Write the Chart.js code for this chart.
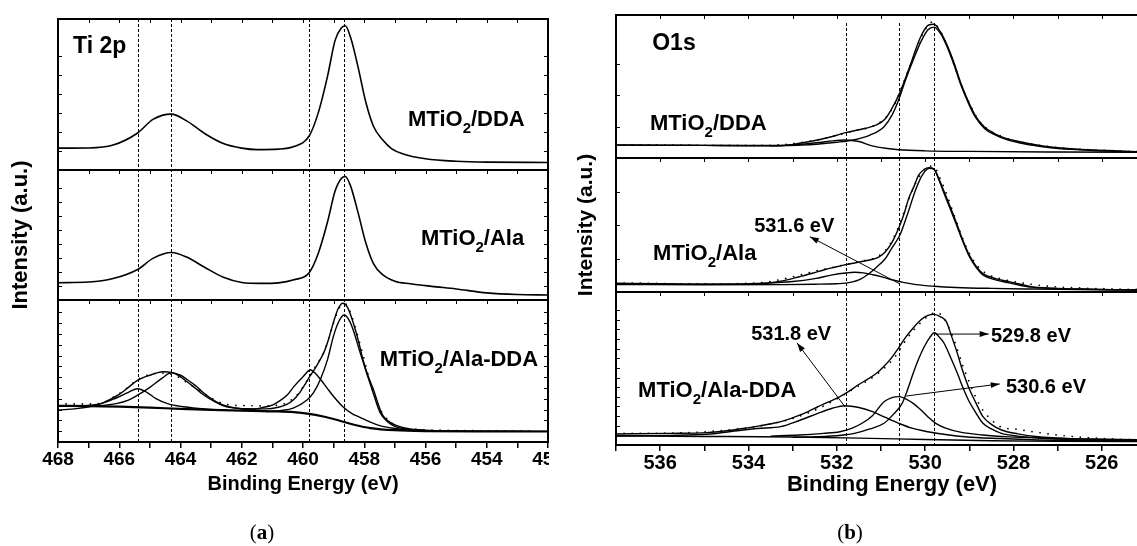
<!DOCTYPE html>
<html>
<head>
<meta charset="utf-8">
<title>XPS Ti 2p / O1s</title>
<script src="https://cdn.jsdelivr.net/npm/chart.js@4.4.1/dist/chart.umd.min.js"></script>
<style>
  html, body { margin: 0; padding: 0; background: #fff; overflow: hidden; }
  body { position: relative; width: 1137px; height: 546px; }
  .panel { position: absolute; top: 0; height: 546px; overflow: hidden; }
  #panel-a { left: 0; width: 549px; }
  #panel-b { left: 560px; width: 577px; }
  .caption { position: absolute; top: 520px; width: 60px; text-align: center;
    font-family: 'Liberation Serif', 'DejaVu Serif', serif; font-size: 21px; color: #000; }
  #cap-a { left: 232px; }
  #cap-b { left: 820px; }
</style>
</head>
<body>
<div id="panel-a" class="panel"><canvas id="chart-a" width="580" height="546"></canvas></div>
<div id="panel-b" class="panel"><canvas id="chart-b" width="620" height="546"></canvas></div>
<div id="cap-a" class="caption">(<b>a</b>)</div>
<div id="cap-b" class="caption">(<b>b</b>)</div>

<script>
'use strict'

/* ------------------------------ Data ------------------------------ */
// every point is [binding energy (eV), intensity (a.u.)]
// intensity runs 0-100 inside each stacked strip

const tiTickLabels = [468, 466, 464, 462, 460, 458, 456, 454, 452]
const oTickLabels = [536, 534, 532, 530, 528, 526]

const tiPeaks = [465.4, 464.3, 459.8, 458.65]
const oPeaks = [531.8, 530.6, 529.8]

// Ti 2p, MTiO2/DDA
const tiDDA = [[468, 14.5], [467, 14.6], [466.2, 16.5], [465.4, 24.5], [464.9, 33.5], [464.3, 37], [463.8, 32.5], [463.2, 24], [462.6, 17.5], [462, 14.5], [461.5, 13.5], [460.8, 13.8], [460.3, 15.5], [459.8, 22.5], [459.5, 38], [459.2, 62], [458.95, 86], [458.75, 94], [458.62, 95.5], [458.45, 88], [458.2, 68], [457.95, 45], [457.7, 29], [457.4, 20], [457.1, 14], [456.7, 10.5], [456, 7.5], [455, 5.8], [454, 5.2], [452, 5.0]]

// Ti 2p, MTiO2/Ala
const tiAla = [[468, 13.3], [467, 13.8], [466.2, 16.5], [465.4, 23.5], [464.9, 32], [464.3, 36.5], [463.8, 33], [463.2, 25], [462.6, 17.5], [462, 13.5], [461.4, 12.8], [460.8, 13.2], [460.3, 15.5], [459.8, 21], [459.5, 36], [459.2, 60], [458.95, 84], [458.75, 93.5], [458.62, 95], [458.45, 88], [458.2, 67], [457.95, 44], [457.7, 28], [457.4, 19.5], [457.0, 14.5], [456.5, 12.5], [455.8, 10.5], [455, 8.5], [454, 5.5], [453, 4.2], [452, 3.9]]

// Ti 2p, MTiO2/Ala-DDA: raw data, fit envelope, four components, background
const tiMixRaw = [[468, 26.8], [467.5, 26.8], [467, 26.8], [466.6, 27.2], [466.2, 31.5], [465.8, 37], [465.4, 44], [465, 47.5], [464.6, 48.5], [464.2, 47], [463.8, 42], [463.4, 36.5], [463, 31], [462.6, 27], [462.2, 25.8], [461.8, 25.6], [461.4, 25.4], [461, 25.6], [460.6, 27], [460.2, 33], [459.9, 42], [459.6, 53], [459.3, 64], [459, 84], [458.8, 95], [458.6, 97], [458.4, 88], [458.1, 66], [457.8, 42], [457.5, 24], [457.2, 15], [456.8, 10.5], [456.3, 9], [455.5, 8.3], [454.5, 8], [453.5, 7.8], [452.5, 7.7]]
const tiMixFit = [[468, 22.5], [467.4, 23.5], [466.9, 25.2], [466.6, 27], [466.3, 30], [466, 33.5], [465.7, 38.5], [465.43, 43], [465.2, 45.5], [465, 47], [464.8, 48.5], [464.56, 49.5], [464.3, 49], [464.1, 47.2], [463.85, 43.5], [463.58, 39], [463.3, 34], [462.93, 29], [462.6, 25.5], [462.28, 24], [461.8, 23.4], [461.2, 23.3], [460.8, 24.5], [460.53, 26.5], [460.3, 30], [460.1, 35], [459.95, 40], [459.77, 46.5], [459.6, 52], [459.44, 58], [459.3, 64], [459.17, 72], [459.01, 84], [458.85, 94], [458.7, 97.7], [458.55, 95], [458.36, 84], [458.2, 72], [458.03, 57], [457.85, 45], [457.7, 37], [457.55, 27], [457.4, 19], [457.2, 14.5], [457, 12], [456.6, 9.5], [456, 8.3], [455, 7.8], [453, 7.5], [452, 7.5]]
const tiMixP1 = [[468, 25.4], [467.2, 25.6], [466.6, 27], [466.1, 31], [465.7, 35], [465.4, 37.5], [465.1, 35], [464.8, 30.5], [464.4, 26.8], [463.9, 24.8], [463.2, 23.2], [462.5, 22.4]]
const tiMixP2 = [[467, 25.3], [466.6, 25.6], [466.1, 27], [465.7, 29.5], [465.4, 33], [465, 38.5], [464.6, 45], [464.3, 48.8], [464, 47], [463.8, 44.2], [463.5, 39.5], [463.26, 34.8], [463, 30.5], [462.7, 26.8], [462.3, 24.3], [461.8, 22.8], [461.2, 22]]
const tiMixP3 = [[461.8, 22], [461.4, 23.9], [461, 26], [460.75, 29.1], [460.5, 33.5], [460.3, 39], [460, 46], [459.76, 50.7], [459.5, 46], [459.23, 38.5], [459, 32], [458.68, 24.4], [458.4, 20], [458.14, 17.4], [457.8, 14], [457.49, 11.5], [457, 9.5], [456.5, 8.3], [455.5, 7.7]]
const tiMixP4 = [[461.2, 21.5], [460.7, 22.2], [460.32, 23.9], [459.87, 29.6], [459.65, 35], [459.44, 43.7], [459.2, 58], [459.01, 74.2], [458.85, 84], [458.66, 89.4], [458.5, 86], [458.36, 78.9], [458.15, 64], [457.92, 48.4], [457.7, 34], [457.49, 21], [457.25, 14.5], [457, 11], [456.6, 9], [456, 8], [455, 7.6]]
const tiMixBg = [[468, 25.4], [467, 25.3], [466, 24.9], [465, 24.2], [464, 23.3], [463, 22.6], [462, 22.1], [461, 21.6], [460.3, 21], [459.8, 19.8], [459.3, 17.8], [458.8, 15], [458.3, 12], [457.8, 9.8], [457, 8.3], [456, 7.7], [454, 7.5], [452, 7.4]]

// O1s, MTiO2/DDA
const oDDARaw = [[537, 9.3], [536.3, 9.2], [535.6, 9], [534.9, 8.9], [534.2, 8.8], [533.5, 8.9], [532.9, 10.5], [532.4, 13], [532, 15.8], [531.6, 19], [531.2, 22], [530.9, 28], [530.7, 37], [530.5, 52], [530.3, 68], [530.1, 84], [529.95, 92], [529.85, 95], [529.7, 91], [529.55, 82], [529.4, 70], [529.2, 53], [529, 38.5], [528.8, 27], [528.6, 20.5], [528.3, 15.5], [528, 12.3], [527.6, 9.8], [527.2, 8], [526.8, 6.8], [526.4, 6], [526, 5.4], [525.5, 4.8], [525, 4.4], [524.5, 4.2]]
const oDDAFit = [[537, 9.1], [536, 9], [535, 8.8], [534, 8.6], [533.26, 8.6], [532.8, 10.5], [532.43, 12.6], [532.1, 15], [531.8, 17.7], [531.35, 20.8], [531.1, 23.1], [530.9, 27.5], [530.77, 33.6], [530.58, 45.2], [530.35, 63.8], [530.1, 84.8], [529.92, 93], [529.8, 93.5], [529.65, 88], [529.52, 80.2], [529.35, 67], [529.19, 52.2], [529.0, 38], [528.85, 28.9], [528.65, 21.5], [528.44, 17.3], [528.15, 13.5], [527.85, 11.4], [527.5, 9.3], [527.2, 7.9], [526.7, 6.5], [526.2, 5.6], [525.6, 4.9], [525, 4.3], [524.5, 4]]
const oDDAMain = [[533.5, 8.5], [532.8, 9], [532.4, 9.8], [532, 11], [531.6, 12.8], [531.25, 16], [530.93, 21.9], [530.75, 30], [530.6, 40.6], [530.45, 54], [530.27, 68.5], [530.1, 81], [529.94, 89.5], [529.8, 91.5], [529.65, 87], [529.52, 79], [529.35, 65.5], [529.19, 51], [529.0, 37], [528.85, 28], [528.65, 20.5], [528.44, 16.5], [528.15, 12.8], [527.85, 10.5], [527.5, 8.6], [527.2, 7.3], [526.7, 6], [526.2, 5.2], [525.6, 4.6], [525, 4.1], [524.5, 3.9]]
const oDDAHigh = [[537, 9], [535, 8.8], [533.5, 8.7], [532.8, 9.6], [532.4, 10.8], [532.1, 12], [531.8, 12.6], [531.5, 11.5], [531.2, 8.5], [530.9, 6.8], [530.6, 5.8], [530, 5], [529, 4.6], [527, 4.2], [524.5, 3.9]]

// O1s, MTiO2/Ala
const oAlaRaw = [[537, 6.7], [536.3, 6.5], [535.6, 6.1], [534.9, 6], [534.2, 6.3], [533.6, 7.3], [533.2, 9.8], [532.85, 12.6], [532.5, 15.5], [532.15, 18], [531.8, 20.5], [531.45, 23], [531.1, 26], [530.85, 33], [530.65, 45], [530.45, 62], [530.25, 79], [530.05, 90], [529.92, 94], [529.8, 93.5], [529.65, 84], [529.5, 72], [529.35, 58], [529.15, 40], [529, 29], [528.8, 19], [528.6, 13.5], [528.3, 10], [528, 7.8], [527.6, 5.8], [527.2, 4.3], [526.8, 3.4], [526.4, 2.9], [526, 2.5], [525.5, 2.1], [525, 1.8], [524.5, 1.6]]
const oAlaFit = [[537, 6.5], [536, 6.2], [535.2, 5.8], [534.7, 5.7], [534, 5.9], [533.6, 6.5], [533.2, 8.5], [532.85, 11.4], [532.55, 14], [532.3, 16.4], [532.05, 18.5], [531.85, 20.1], [531.55, 22], [531.26, 23.9], [531.05, 26], [530.9, 30], [530.75, 37], [530.6, 47.5], [530.48, 58], [530.37, 70], [530.25, 79], [530.15, 87], [530.02, 91.5], [529.92, 92.8], [529.8, 91.8], [529.68, 84], [529.57, 74.9], [529.43, 63.5], [529.3, 52.5], [529.15, 39], [529.0, 27.6], [528.85, 19.5], [528.7, 14], [528.4, 10], [528.1, 7.7], [527.85, 5.8], [527.6, 4], [527.1, 2.9], [526.45, 2.2], [525.8, 1.8], [525, 1.4], [524.5, 1.3]]
const oAlaMain = [[537, 5.6], [535, 5.4], [533.2, 5.5], [532.5, 5.8], [532, 6.2], [531.8, 6.6], [531.5, 9], [531.26, 14], [531.1, 18.5], [530.9, 25], [530.75, 33], [530.57, 42.5], [530.4, 58], [530.2, 77.6], [530.05, 88], [529.9, 92.3], [529.8, 91.5], [529.68, 83], [529.57, 73.5], [529.43, 62], [529.3, 51], [529.15, 38], [529.0, 26.5], [528.85, 18.5], [528.7, 13], [528.4, 9], [528.1, 6.8], [527.85, 5], [527.6, 3.6], [527.1, 2.6], [526.45, 2], [525.8, 1.7], [525, 1.4], [524.5, 1.3]]
const oAlaHigh = [[537, 6], [535.5, 5.9], [534.5, 6], [533.6, 6.6], [533, 7.8], [532.5, 10], [532.1, 12.8], [531.8, 14.2], [531.6, 14.7], [531.4, 14.3], [531.2, 13], [531.0, 11.5], [530.8, 9.5], [530.5, 7.2], [530.2, 5.5], [529.8, 4.3], [529.3, 3.4], [528.5, 2.7], [527.5, 2.2], [526.5, 1.8], [524.5, 1.4]]

// O1s, MTiO2/Ala-DDA
const oMixRaw = [[537, 7.6], [536.4, 7.6], [535.8, 7.8], [535.2, 8.3], [534.6, 9.5], [534.1, 11], [533.6, 13.2], [533.1, 16.5], [532.6, 21.5], [532.1, 28.5], [531.6, 37], [531.1, 46], [530.7, 57], [530.4, 70], [530.1, 80], [529.9, 85], [529.75, 86.5], [529.6, 84], [529.45, 76], [529.3, 65], [529.15, 52], [529.0, 41], [528.85, 31], [528.7, 23], [528.5, 16.5], [528.3, 12], [527.9, 10.2], [527.56, 8.7], [527.2, 7.2], [526.8, 5.9], [526.4, 5], [526.05, 4.4], [525.6, 3.8], [525, 3.2], [524.5, 3]]
const oMixFit = [[537, 7.2], [535.8, 7.6], [534.94, 8.1], [534.5, 9.3], [534.1, 10.9], [533.75, 12.5], [533.43, 14.2], [533.15, 16.3], [532.93, 18.5], [532.65, 21.8], [532.43, 25], [532.2, 28], [531.93, 31.6], [531.72, 35.2], [531.52, 39.2], [531.3, 43], [531.1, 46.9], [530.93, 51.5], [530.77, 56.6], [530.6, 63.5], [530.43, 70.8], [530.27, 76.5], [530.1, 81.7], [529.95, 84.5], [529.8, 85.4], [529.65, 83.8], [529.52, 80.6], [529.4, 71], [529.27, 59.9], [529.15, 48.5], [529.02, 38.1], [528.85, 27.5], [528.69, 18.5], [528.5, 13.5], [528.27, 9.8], [527.9, 7.3], [527.44, 5.4], [526.8, 4.3], [526, 3.7], [525, 3.2], [524.5, 3]]
const oMixP1 = [[537, 6], [535.8, 6.3], [534.94, 7], [534.4, 8.8], [533.8, 10.8], [533.27, 12], [532.85, 16], [532.43, 20.7], [532.1, 24], [531.82, 25.7], [531.5, 24.5], [531.19, 21.8], [530.9, 18], [530.6, 14.2], [530.3, 11], [529.94, 8.7], [529.5, 6.7], [529.1, 5.4], [528.3, 4.2], [527.44, 3.3], [526.5, 2.8], [524.5, 2.3]]
const oMixP2 = [[533.5, 5.8], [532.85, 6.5], [532.3, 7.6], [531.93, 8.7], [531.65, 11], [531.43, 14.2], [531.2, 19], [530.93, 28.3], [530.75, 31], [530.59, 31.6], [530.43, 30], [530.27, 27.2], [530.1, 23], [529.94, 18.5], [529.75, 14], [529.52, 10.9], [529.2, 8.4], [528.69, 6.5], [528.1, 5.3], [527.44, 4.6], [526.5, 4], [524.5, 3.2]]
const oMixP3 = [[533, 5], [532.43, 5.4], [531.9, 6.4], [531.6, 7.6], [531.25, 10.5], [530.93, 14.2], [530.72, 20], [530.52, 27.2], [530.4, 36], [530.27, 46.9], [530.15, 56], [530.02, 64.2], [529.9, 70], [529.79, 73.4], [529.68, 70.5], [529.57, 66.5], [529.42, 57], [529.27, 46.9], [529.15, 38], [529.02, 29.4], [528.85, 21], [528.69, 14.2], [528.5, 10.5], [528.27, 7.6], [527.9, 5.8], [527.44, 4.6], [526.8, 3.6], [526, 3], [524.5, 2.4]]
const oMixBg = [[537, 5.9], [535, 5.6], [533, 5.2], [531.5, 4.5], [530, 3.6], [528.5, 2.8], [527, 2.4], [524.5, 2.1]]

/* ------------------------------ Styling helpers ------------------------------ */

const FONT = "'Liberation Sans', Arial, sans-serif"

function curve (pts, axis, extra) {
  return Object.assign({
    data: pts.map(([x, y]) => ({ x, y })),
    yAxisID: axis,
    borderColor: '#000',
    borderWidth: 1.4,
    pointRadius: 0,
    fill: false,
    cubicInterpolationMode: 'monotone'
  }, extra || {})
}

// raw spectra are drawn as dots along the measured line
function dotted (pts, axis) {
  return curve(pts, axis, { borderWidth: 1.7, borderDash: [0.1, 8], borderCapStyle: 'round' })
}

function stripAxis (weight, step, width, title) {
  return {
    type: 'linear',
    position: 'left',
    min: 0,
    max: 100,
    stack: 'strips',
    stackWeight: weight,
    ticks: { display: false, stepSize: step },
    grid: { display: false },
    border: { display: false },
    title: title || { display: false },
    afterFit: s => { s.width = width }
  }
}

function energyAxis (min, max, labels, size, titleSize, height, titlePad) {
  return {
    type: 'linear',
    position: 'bottom',
    reverse: true,
    min,
    max,
    ticks: {
      stepSize: 1,
      includeBounds: false,
      autoSkip: false,
      maxRotation: 0,
      padding: 0,
      color: '#000',
      font: { family: FONT, size, weight: 'bold' },
      callback: v => labels.includes(v) ? String(v) : ''
    },
    grid: { drawOnChartArea: false, tickLength: 6, color: '#000', lineWidth: 1.5 },
    border: { display: false },
    title: {
      display: true,
      text: 'Binding Energy (eV)',
      color: '#000',
      font: { family: FONT, size: titleSize, weight: 'bold' },
      padding: { top: 0, bottom: titlePad }
    },
    afterFit: s => { s.height = height }
  }
}

function yTitle (size, pad) {
  return {
    display: true,
    text: 'Intensity (a.u.)',
    color: '#000',
    font: { family: FONT, size, weight: 'bold' },
    padding: { top: pad, bottom: 0 }
  }
}

// "_2" in a label means a subscript 2
function drawRich (ctx, text, x, y, size) {
  text.split(/(_\d)/).forEach(part => {
    if (!part) return
    const sub = part[0] === '_'
    const t = sub ? part.slice(1) : part
    ctx.font = `bold ${sub ? Math.round(size * 0.68) : size}px ${FONT}`
    ctx.fillText(t, x, sub ? y + size * 0.3 : y)
    x += ctx.measureText(t).width
  })
}

function drawArrow (ctx, x0, y0, x1, y1) {
  const ang = Math.atan2(y1 - y0, x1 - x0)
  ctx.beginPath()
  ctx.moveTo(x0, y0)
  ctx.lineTo(x1, y1)
  ctx.stroke()
  ctx.beginPath()
  ctx.moveTo(x1, y1)
  ctx.lineTo(x1 - 9 * Math.cos(ang) + 3 * Math.sin(ang), y1 - 9 * Math.sin(ang) - 3 * Math.cos(ang))
  ctx.lineTo(x1 - 9 * Math.cos(ang) - 3 * Math.sin(ang), y1 - 9 * Math.sin(ang) + 3 * Math.cos(ang))
  ctx.closePath()
  ctx.fill()
}

/* ------------------------------ Frames, markers, labels ------------------------------ */

const decor = {
  id: 'decor',
  beforeDatasetsDraw (chart, args, opts) {
    const { ctx, chartArea: area } = chart
    const x = chart.scales.x
    ctx.save()
    ctx.strokeStyle = '#000'
    ctx.lineWidth = 1
    ctx.setLineDash([3, 2])
    opts.markers.forEach(e => {
      const px = Math.round(x.getPixelForValue(e)) + 0.5
      ctx.beginPath()
      ctx.moveTo(px, area.top + opts.markerGap)
      ctx.lineTo(px, area.bottom)
      ctx.stroke()
    })
    ctx.restore()
  },
  afterDatasetsDraw (chart, args, opts) {
    const { ctx, chartArea: area, scales } = chart
    const x = scales.x
    ctx.save()
    ctx.strokeStyle = '#000'
    ctx.fillStyle = '#000'

    opts.strips.forEach(id => {
      const s = scales[id]
      ctx.lineWidth = 1
      // little inward ticks on both sides and on the top edge
      s.ticks.forEach(t => {
        const py = Math.round(s.getPixelForValue(t.value)) + 0.5
        ctx.beginPath()
        ctx.moveTo(area.left, py); ctx.lineTo(area.left + 4, py)
        ctx.moveTo(area.right, py); ctx.lineTo(area.right - 4, py)
        ctx.stroke()
      })
      x.ticks.forEach(t => {
        const px = Math.round(x.getPixelForValue(t.value)) + 0.5
        ctx.beginPath()
        ctx.moveTo(px, s.top); ctx.lineTo(px, s.top + 4)
        ctx.stroke()
      })
      ctx.lineWidth = 2
      ctx.strokeRect(area.left, s.top, area.right - area.left, s.bottom - s.top)
    })

    ctx.textAlign = 'left'
    ctx.textBaseline = 'alphabetic'
    opts.labels.forEach(l => {
      drawRich(ctx, l.text, x.getPixelForValue(l.at[0]), scales[l.axis].getPixelForValue(l.at[1]), l.size)
    })

    ctx.lineWidth = 1
    opts.arrows.forEach(a => {
      const s = scales[a.axis]
      drawArrow(ctx, x.getPixelForValue(a.from[0]), s.getPixelForValue(a.from[1]),
        x.getPixelForValue(a.to[0]), s.getPixelForValue(a.to[1]))
    })
    ctx.restore()
  }
}

const baseOptions = {
  responsive: false,
  animation: false,
  events: [],
  devicePixelRatio: 1,
  plugins: { legend: { display: false }, tooltip: { enabled: false } }
}

/* ------------------------------ Panel (a): Ti 2p ------------------------------ */

new Chart(document.getElementById('chart-a'), {
  type: 'line',
  data: {
    datasets: [
      curve(tiDDA, 'yTop', { borderWidth: 1.6 }),
      curve(tiAla, 'yMid', { borderWidth: 1.6 }),
      curve(tiMixBg, 'yBot', { borderWidth: 2.2 }),
      curve(tiMixP1, 'yBot'),
      curve(tiMixP2, 'yBot'),
      curve(tiMixP3, 'yBot'),
      curve(tiMixP4, 'yBot'),
      curve(tiMixFit, 'yBot'),
      dotted(tiMixRaw, 'yBot')
    ]
  },
  options: Object.assign({}, baseOptions, {
    layout: { padding: { top: 19, right: 32, bottom: 0, left: 0 } },
    scales: {
      x: energyAxis(452, 468, tiTickLabels, 19, 20, 104, 50),
      yBot: stripAxis(142, 7.6, 58),
      yMid: stripAxis(130, 10.8, 58, yTitle(22, 8)),
      yTop: stripAxis(151, 12.6, 58)
    },
    plugins: Object.assign({}, baseOptions.plugins, {
      decor: {
        strips: ['yTop', 'yMid', 'yBot'],
        markers: tiPeaks,
        markerGap: 0,
        labels: [
          { text: 'Ti 2p', at: [467.51, 77.5], axis: 'yTop', size: 23 },
          { text: 'MTiO_2/DDA', at: [456.57, 29.1], axis: 'yTop', size: 22 },
          { text: 'MTiO_2/Ala', at: [456.15, 42.3], axis: 'yMid', size: 22 },
          { text: 'MTiO_2/Ala-DDA', at: [457.49, 53.5], axis: 'yBot', size: 22 }
        ],
        arrows: []
      }
    })
  }),
  plugins: [decor]
})

/* ------------------------------ Panel (b): O1s ------------------------------ */

new Chart(document.getElementById('chart-b'), {
  type: 'line',
  data: {
    datasets: [
      curve(oDDAHigh, 'yTop'),
      curve(oDDAMain, 'yTop'),
      curve(oDDAFit, 'yTop'),
      dotted(oDDARaw, 'yTop'),
      curve(oAlaHigh, 'yMid'),
      curve(oAlaMain, 'yMid'),
      curve(oAlaFit, 'yMid'),
      dotted(oAlaRaw, 'yMid'),
      curve(oMixBg, 'yBot'),
      curve(oMixP1, 'yBot'),
      curve(oMixP2, 'yBot'),
      curve(oMixP3, 'yBot'),
      curve(oMixFit, 'yBot'),
      dotted(oMixRaw, 'yBot')
    ]
  },
  options: Object.assign({}, baseOptions, {
    layout: { padding: { top: 15, right: 12, bottom: 0, left: 0 } },
    scales: {
      x: energyAxis(524.5, 537, oTickLabels, 20, 22, 101, 48),
      yBot: stripAxis(153, 6.3, 56),
      yMid: stripAxis(134, 25, 56, yTitle(21, 14)),
      yTop: stripAxis(143, 22, 56)
    },
    plugins: Object.assign({}, baseOptions.plugins, {
      decor: {
        strips: ['yTop', 'yMid', 'yBot'],
        markers: oPeaks,
        markerGap: 8,
        labels: [
          { text: 'O1s', at: [536.18, 75.5], axis: 'yTop', size: 23 },
          { text: 'MTiO_2/DDA', at: [536.23, 19.6], axis: 'yTop', size: 22 },
          { text: 'MTiO_2/Ala', at: [536.16, 23.9], axis: 'yMid', size: 22 },
          { text: 'MTiO_2/Ala-DDA', at: [536.5, 31.4], axis: 'yBot', size: 22 },
          { text: '531.6 eV', at: [533.87, 44.8], axis: 'yMid', size: 20 },
          { text: '531.8 eV', at: [533.94, 68.6], axis: 'yBot', size: 20 },
          { text: '529.8 eV', at: [528.51, 67.3], axis: 'yBot', size: 20 },
          { text: '530.6 eV', at: [528.17, 34], axis: 'yBot', size: 20 }
        ],
        arrows: [
          { from: [530.57, 6.0], to: [532.61, 41.3], axis: 'yMid' },
          { from: [531.81, 24.8], to: [532.9, 66.7], axis: 'yBot' },
          { from: [529.76, 72.5], to: [528.56, 72.5], axis: 'yBot' },
          { from: [530.43, 32], to: [528.31, 39.9], axis: 'yBot' }
        ]
      }
    })
  }),
  plugins: [decor]
})
</script>
</body>
</html>
